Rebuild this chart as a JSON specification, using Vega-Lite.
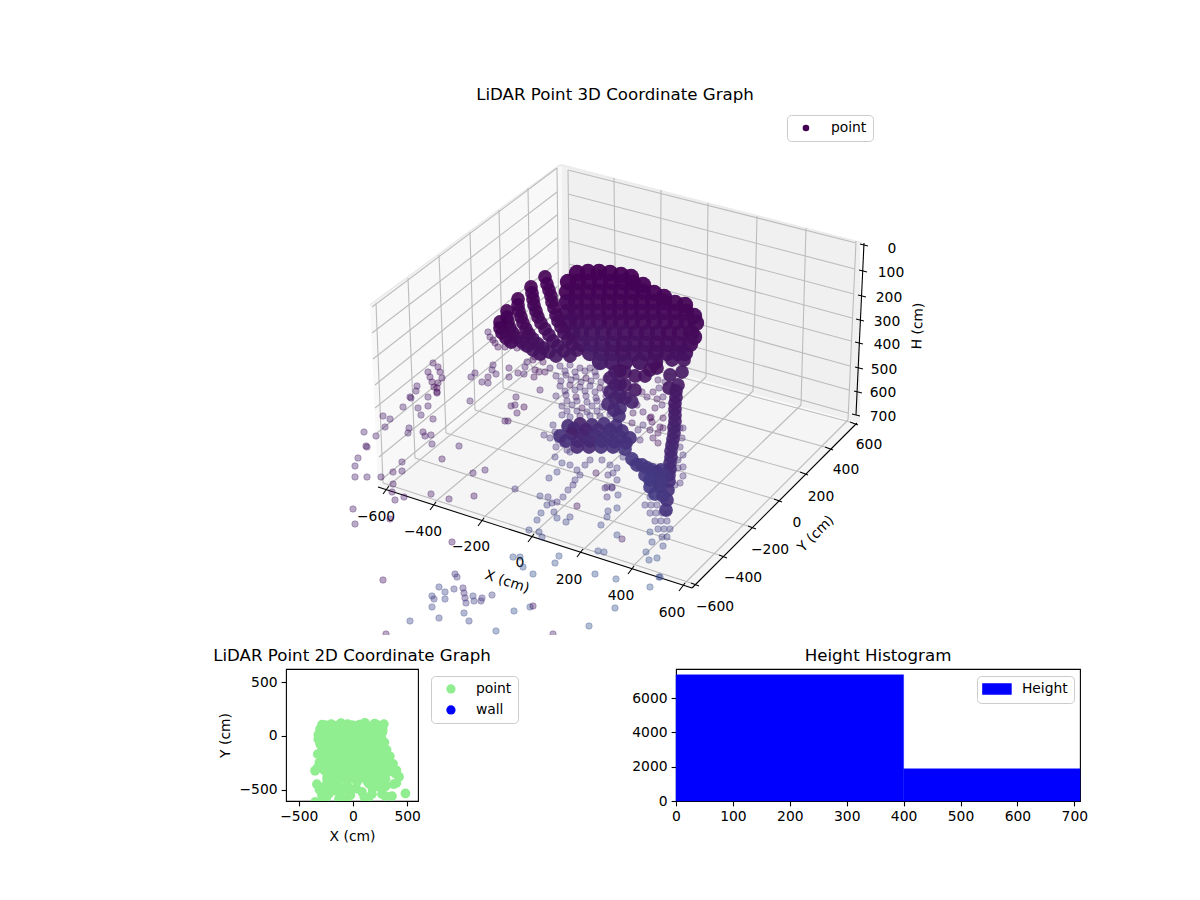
{"$schema":"https://vega.github.io/schema/vega-lite/v6.json","autosize":{"type":"none"},"padding":{"left":286,"top":105,"right":914,"bottom":795},"background":"white","bounds":"flush","spacing":34,"resolve":{"scale":{"color":"independent"},"legend":{"color":"independent"}},"config":{"font":"DejaVu Sans","title":{"fontSize":16.67,"fontWeight":"normal","color":"black"},"axis":{"grid":false,"domain":false,"tickColor":"black","tickWidth":1.1,"tickSize":4.9,"labelColor":"black","labelFontSize":13.89,"labelPadding":4,"titleColor":"black","titleFontSize":13.89,"titleFontWeight":"normal","labelFlush":false,"labelOverlap":false},"legend":{"labelFontSize":13.89,"labelColor":"black","fillColor":"white","strokeColor":"#cccccc","cornerRadius":4,"title":null}},"vconcat":[{"width":794,"height":530,"view":{"stroke":null},"title":{"text":"LiDAR Point 3D Coordinate Graph","dx":-68,"offset":1},"encoding":{"x":{"field":"x","type":"quantitative","axis":null,"scale":{"domain":[286,1080],"nice":false,"zero":false}},"y":{"field":"y","type":"quantitative","axis":null,"scale":{"domain":[635,105],"nice":false,"zero":false}}},"layer":[{"data":{"values":[{"x":370,"y":305,"y2":305},{"x":378,"y":299,"y2":487},{"x":562,"y":164,"y2":342}]},"mark":{"type":"area","orient":"vertical","color":"#f8f8f8"},"encoding":{"y2":{"field":"y2"}}},{"data":{"values":[{"x":562,"y":164,"y2":342},{"x":860,"y":243,"y2":423}]},"mark":{"type":"area","orient":"vertical","color":"#f0f0f0"},"encoding":{"y2":{"field":"y2"}}},{"data":{"values":[{"x":378,"y":487,"y2":487},{"x":562,"y":342,"y2":546},{"x":692,"y":378,"y2":588},{"x":857,"y":423,"y2":423}]},"mark":{"type":"area","orient":"vertical","color":"#f5f5f5"},"encoding":{"y2":{"field":"y2"}}},{"data":{"values":[{"x":370,"y":305,"x2":560,"y2":165},{"x":560,"y":165,"x2":862,"y2":243}]},"mark":{"type":"rule","color":"#ececec","strokeWidth":2},"encoding":{"x2":{"field":"x2"},"y2":{"field":"y2"}}},{"data":{"values":[{"x":376,"y":303,"x2":383,"y2":483},{"x":408,"y":278,"x2":415,"y2":458},{"x":439,"y":255,"x2":446,"y2":433},{"x":470,"y":232,"x2":475,"y2":410},{"x":499,"y":210,"x2":503,"y2":388},{"x":528,"y":188,"x2":531,"y2":366},{"x":557,"y":168,"x2":559,"y2":345},{"x":568,"y":170,"x2":570,"y2":337},{"x":614,"y":178,"x2":616,"y2":350},{"x":661,"y":190,"x2":660,"y2":363},{"x":708,"y":203,"x2":706,"y2":377},{"x":757,"y":216,"x2":753,"y2":391},{"x":806,"y":228,"x2":801,"y2":405},{"x":856,"y":241,"x2":848,"y2":420},{"x":372,"y":307,"x2":557,"y2":168},{"x":372,"y":333,"x2":557,"y2":192},{"x":373,"y":359,"x2":557,"y2":215},{"x":375,"y":385,"x2":557,"y2":238},{"x":375,"y":408,"x2":558,"y2":262},{"x":377,"y":433,"x2":558,"y2":286},{"x":379,"y":457,"x2":559,"y2":310},{"x":381,"y":480,"x2":559,"y2":334},{"x":568,"y":170,"x2":856,"y2":243},{"x":568,"y":194,"x2":855,"y2":269},{"x":568,"y":218,"x2":854,"y2":294},{"x":569,"y":241,"x2":852,"y2":318},{"x":569,"y":264,"x2":851,"y2":341},{"x":569,"y":288,"x2":850,"y2":366},{"x":570,"y":312,"x2":849,"y2":390},{"x":570,"y":335,"x2":848,"y2":413},{"x":388,"y":486,"x2":570,"y2":337},{"x":435,"y":502,"x2":616,"y2":350},{"x":483,"y":518,"x2":660,"y2":363},{"x":533,"y":534,"x2":706,"y2":377},{"x":583,"y":550,"x2":753,"y2":391},{"x":633,"y":566,"x2":801,"y2":405},{"x":684,"y":584,"x2":848,"y2":420},{"x":383,"y":483,"x2":691,"y2":583},{"x":415,"y":458,"x2":719,"y2":555},{"x":446,"y":433,"x2":748,"y2":526},{"x":475,"y":410,"x2":774,"y2":499},{"x":503,"y":388,"x2":800,"y2":472},{"x":531,"y":366,"x2":825,"y2":447},{"x":559,"y":345,"x2":850,"y2":422}]},"mark":{"type":"rule","color":"#bcbcbc","strokeWidth":1.1},"encoding":{"x2":{"field":"x2"},"y2":{"field":"y2"}}},{"data":{"values":[{"x":378,"y":487,"x2":692,"y2":588},{"x":692,"y":588,"x2":857,"y2":423},{"x":864,"y":243,"x2":856,"y2":415},{"x":383,"y":494,"x2":389,"y2":486},{"x":430,"y":510,"x2":436,"y2":502},{"x":478,"y":526,"x2":484,"y2":518},{"x":528,"y":542,"x2":534,"y2":534},{"x":577,"y":557,"x2":583,"y2":549},{"x":628,"y":574,"x2":634,"y2":566},{"x":679,"y":591,"x2":685,"y2":583},{"x":691,"y":583,"x2":699,"y2":586},{"x":719,"y":555,"x2":727,"y2":558},{"x":748,"y":526,"x2":756,"y2":529},{"x":774,"y":499,"x2":782,"y2":502},{"x":800,"y":472,"x2":808,"y2":475},{"x":825,"y":447,"x2":833,"y2":450},{"x":850,"y":422,"x2":858,"y2":425},{"x":860,"y":244,"x2":868,"y2":246},{"x":859,"y":270,"x2":867,"y2":272},{"x":858,"y":295,"x2":866,"y2":297},{"x":856,"y":319,"x2":864,"y2":321},{"x":855,"y":342,"x2":863,"y2":344},{"x":855,"y":367,"x2":863,"y2":369},{"x":854,"y":391,"x2":862,"y2":393},{"x":852,"y":414,"x2":860,"y2":416}]},"mark":{"type":"rule","color":"black","strokeWidth":1.1},"encoding":{"x2":{"field":"x2"},"y2":{"field":"y2"}}},{"data":{"values":[{"x":376,"y":517,"t":"−600"},{"x":423,"y":532,"t":"−400"},{"x":471,"y":547,"t":"−200"},{"x":520,"y":563,"t":"0"},{"x":569,"y":580,"t":"200"},{"x":621,"y":596,"t":"400"},{"x":672,"y":613,"t":"600"},{"x":715,"y":607,"t":"−600"},{"x":743,"y":578,"t":"−400"},{"x":770,"y":550,"t":"−200"},{"x":797,"y":523,"t":"0"},{"x":821,"y":497,"t":"200"},{"x":846,"y":470,"t":"400"},{"x":869,"y":445,"t":"600"},{"x":892,"y":249,"t":"0"},{"x":891,"y":273,"t":"100"},{"x":889,"y":298,"t":"200"},{"x":887,"y":322,"t":"300"},{"x":887,"y":345,"t":"400"},{"x":884,"y":370,"t":"500"},{"x":883,"y":393,"t":"600"},{"x":883,"y":417,"t":"700"}]},"mark":{"type":"text","fontSize":13.89,"color":"black","align":"center","baseline":"middle"},"encoding":{"text":{"field":"t"}}},{"data":{"values":[{"x":507,"y":582,"t":"X (cm)"}]},"mark":{"type":"text","fontSize":13.89,"color":"black","angle":18,"align":"center","baseline":"middle"},"encoding":{"text":{"field":"t"}}},{"data":{"values":[{"x":816,"y":534,"t":"Y (cm)"}]},"mark":{"type":"text","fontSize":13.89,"color":"black","angle":-45,"align":"center","baseline":"middle"},"encoding":{"text":{"field":"t"}}},{"data":{"values":[{"x":918,"y":326,"t":"H (cm)"}]},"mark":{"type":"text","fontSize":13.89,"color":"black","angle":-88,"align":"center","baseline":"middle"},"encoding":{"text":{"field":"t"}}},{"data":{"values":[{"x":364,"y":432,"h":30},{"x":376,"y":436,"h":30},{"x":366,"y":446,"h":25},{"x":367,"y":447,"h":25},{"x":358,"y":458,"h":30},{"x":355,"y":466,"h":30},{"x":355,"y":477,"h":30},{"x":367,"y":477,"h":30},{"x":381,"y":477,"h":25},{"x":393,"y":484,"h":15},{"x":393,"y":472,"h":20},{"x":402,"y":471,"h":25},{"x":402,"y":462,"h":30},{"x":392,"y":492,"h":20},{"x":395,"y":500,"h":20},{"x":404,"y":497,"h":25},{"x":353,"y":509,"h":25},{"x":355,"y":524,"h":30},{"x":390,"y":519,"h":25},{"x":431,"y":494,"h":25},{"x":449,"y":499,"h":25},{"x":474,"y":496,"h":15},{"x":452,"y":542,"h":15},{"x":383,"y":580,"h":15},{"x":383,"y":416,"h":25},{"x":390,"y":419,"h":30},{"x":385,"y":427,"h":30},{"x":403,"y":407,"h":30},{"x":411,"y":398,"h":25},{"x":418,"y":408,"h":30},{"x":421,"y":415,"h":30},{"x":428,"y":406,"h":25},{"x":428,"y":397,"h":30},{"x":437,"y":393,"h":20},{"x":433,"y":419,"h":25},{"x":409,"y":428,"h":30},{"x":408,"y":433,"h":30},{"x":423,"y":432,"h":20},{"x":425,"y":436,"h":25},{"x":431,"y":435,"h":25},{"x":432,"y":444,"h":30},{"x":459,"y":446,"h":30},{"x":442,"y":459,"h":20},{"x":473,"y":473,"h":25},{"x":485,"y":470,"h":30},{"x":515,"y":489,"h":55},{"x":470,"y":401,"h":30},{"x":516,"y":397,"h":20},{"x":511,"y":406,"h":15},{"x":515,"y":405,"h":20},{"x":524,"y":407,"h":5},{"x":517,"y":413,"h":20},{"x":505,"y":421,"h":20},{"x":508,"y":421,"h":15},{"x":544,"y":435,"h":55},{"x":549,"y":478,"h":65},{"x":557,"y":472,"h":65},{"x":562,"y":463,"h":65},{"x":570,"y":452,"h":60},{"x":570,"y":465,"h":60},{"x":577,"y":470,"h":60},{"x":580,"y":475,"h":60},{"x":575,"y":480,"h":60},{"x":573,"y":485,"h":55},{"x":568,"y":490,"h":60},{"x":563,"y":497,"h":60},{"x":557,"y":502,"h":55},{"x":552,"y":503,"h":60},{"x":547,"y":505,"h":65},{"x":540,"y":496,"h":65},{"x":548,"y":497,"h":60},{"x":541,"y":513,"h":70},{"x":537,"y":520,"h":70},{"x":554,"y":512,"h":65},{"x":557,"y":518,"h":70},{"x":570,"y":517,"h":65},{"x":566,"y":522,"h":70},{"x":577,"y":506,"h":15},{"x":596,"y":473,"h":20},{"x":529,"y":530,"h":70},{"x":539,"y":532,"h":70},{"x":542,"y":537,"h":70},{"x":513,"y":557,"h":80},{"x":520,"y":557,"h":80},{"x":523,"y":567,"h":80},{"x":533,"y":574,"h":80},{"x":559,"y":556,"h":80},{"x":555,"y":563,"h":80},{"x":595,"y":574,"h":80},{"x":616,"y":579,"h":85},{"x":601,"y":525,"h":70},{"x":608,"y":511,"h":65},{"x":607,"y":517,"h":70},{"x":617,"y":508,"h":70},{"x":617,"y":535,"h":75},{"x":598,"y":551,"h":75},{"x":604,"y":552,"h":75},{"x":607,"y":497,"h":50},{"x":605,"y":488,"h":45},{"x":612,"y":487,"h":50},{"x":618,"y":495,"h":65},{"x":455,"y":574,"h":55},{"x":457,"y":577,"h":60},{"x":439,"y":587,"h":70},{"x":432,"y":596,"h":70},{"x":445,"y":592,"h":70},{"x":434,"y":599,"h":65},{"x":445,"y":599,"h":70},{"x":432,"y":607,"h":70},{"x":454,"y":589,"h":65},{"x":463,"y":588,"h":50},{"x":464,"y":593,"h":50},{"x":465,"y":598,"h":50},{"x":466,"y":603,"h":60},{"x":473,"y":596,"h":70},{"x":474,"y":601,"h":65},{"x":481,"y":601,"h":55},{"x":482,"y":598,"h":60},{"x":492,"y":595,"h":65},{"x":464,"y":613,"h":70},{"x":469,"y":621,"h":70},{"x":439,"y":618,"h":70},{"x":410,"y":621,"h":70},{"x":386,"y":634,"h":20},{"x":514,"y":611,"h":80},{"x":530,"y":607,"h":80},{"x":533,"y":606,"h":15},{"x":496,"y":631,"h":85},{"x":589,"y":626,"h":85},{"x":553,"y":634,"h":30},{"x":615,"y":608,"h":85},{"x":659,"y":577,"h":75},{"x":660,"y":577,"h":75},{"x":650,"y":587,"h":85},{"x":646,"y":552,"h":80},{"x":649,"y":560,"h":80},{"x":657,"y":558,"h":80},{"x":652,"y":542,"h":75},{"x":663,"y":546,"h":70},{"x":650,"y":532,"h":75},{"x":622,"y":539,"h":25},{"x":607,"y":487,"h":45},{"x":612,"y":488,"h":45},{"x":608,"y":475,"h":50},{"x":613,"y":473,"h":55},{"x":617,"y":480,"h":60},{"x":602,"y":460,"h":55},{"x":610,"y":465,"h":60},{"x":617,"y":468,"h":60},{"x":623,"y":457,"h":55},{"x":632,"y":463,"h":25},{"x":658,"y":380,"h":30},{"x":665,"y":382,"h":35},{"x":653,"y":392,"h":20},{"x":659,"y":388,"h":35},{"x":657,"y":399,"h":15},{"x":663,"y":397,"h":30},{"x":655,"y":408,"h":15},{"x":662,"y":405,"h":30},{"x":650,"y":418,"h":10},{"x":651,"y":417,"h":10},{"x":652,"y":422,"h":10},{"x":663,"y":418,"h":10},{"x":650,"y":430,"h":15},{"x":660,"y":427,"h":10},{"x":658,"y":433,"h":10},{"x":653,"y":438,"h":15},{"x":658,"y":443,"h":10},{"x":663,"y":428,"h":15},{"x":643,"y":412,"h":25},{"x":637,"y":405,"h":20},{"x":647,"y":397,"h":25},{"x":642,"y":392,"h":20},{"x":633,"y":413,"h":20},{"x":680,"y":428,"h":45},{"x":683,"y":428,"h":45},{"x":682,"y":438,"h":45},{"x":680,"y":447,"h":45},{"x":683,"y":455,"h":50},{"x":678,"y":460,"h":50},{"x":683,"y":467,"h":50},{"x":678,"y":468,"h":50},{"x":683,"y":476,"h":50},{"x":680,"y":483,"h":50},{"x":675,"y":485,"h":50},{"x":433,"y":363,"h":15},{"x":428,"y":372,"h":15},{"x":430,"y":377,"h":15},{"x":432,"y":382,"h":10},{"x":434,"y":387,"h":10},{"x":437,"y":392,"h":5},{"x":438,"y":367,"h":15},{"x":440,"y":372,"h":15},{"x":442,"y":378,"h":15},{"x":438,"y":383,"h":10},{"x":437,"y":388,"h":5},{"x":417,"y":386,"h":25},{"x":416,"y":391,"h":25},{"x":410,"y":397,"h":20},{"x":471,"y":377,"h":25},{"x":475,"y":373,"h":25},{"x":482,"y":382,"h":25},{"x":488,"y":383,"h":25},{"x":488,"y":377,"h":20},{"x":492,"y":370,"h":25},{"x":493,"y":365,"h":25},{"x":496,"y":374,"h":25},{"x":509,"y":368,"h":15},{"x":509,"y":377,"h":25},{"x":518,"y":373,"h":20},{"x":525,"y":367,"h":25},{"x":527,"y":362,"h":25},{"x":524,"y":374,"h":25},{"x":533,"y":360,"h":10},{"x":535,"y":357,"h":10},{"x":542,"y":357,"h":10},{"x":543,"y":362,"h":10},{"x":535,"y":370,"h":10},{"x":534,"y":377,"h":10},{"x":539,"y":372,"h":10},{"x":545,"y":372,"h":10},{"x":550,"y":368,"h":25},{"x":540,"y":390,"h":25},{"x":488,"y":332,"h":15},{"x":490,"y":337,"h":15},{"x":493,"y":340,"h":10},{"x":495,"y":343,"h":10},{"x":498,"y":347,"h":10},{"x":505,"y":347,"h":10},{"x":508,"y":343,"h":15},{"x":513,"y":345,"h":10},{"x":517,"y":348,"h":10},{"x":497,"y":325,"h":25},{"x":501,"y":330,"h":25},{"x":522,"y":347,"h":15},{"x":526,"y":347,"h":15},{"x":532,"y":347,"h":20},{"x":560,"y":366,"h":35},{"x":570,"y":365,"h":35},{"x":580,"y":368,"h":35},{"x":590,"y":368,"h":35},{"x":600,"y":366,"h":35},{"x":556,"y":376,"h":40},{"x":566,"y":375,"h":40},{"x":576,"y":377,"h":40},{"x":586,"y":378,"h":15},{"x":596,"y":376,"h":40},{"x":606,"y":378,"h":40},{"x":560,"y":386,"h":40},{"x":570,"y":385,"h":20},{"x":580,"y":387,"h":40},{"x":590,"y":386,"h":45},{"x":600,"y":388,"h":20},{"x":610,"y":386,"h":40},{"x":556,"y":396,"h":45},{"x":566,"y":395,"h":45},{"x":576,"y":397,"h":15},{"x":586,"y":396,"h":45},{"x":596,"y":398,"h":45},{"x":606,"y":396,"h":45},{"x":562,"y":406,"h":45},{"x":572,"y":405,"h":45},{"x":582,"y":408,"h":15},{"x":592,"y":406,"h":45},{"x":602,"y":407,"h":45},{"x":612,"y":405,"h":45},{"x":562,"y":415,"h":50},{"x":600,"y":416,"h":45},{"x":610,"y":414,"h":50},{"x":565,"y":371,"h":38},{"x":575,"y":372,"h":38},{"x":585,"y":371,"h":38},{"x":595,"y":372,"h":38},{"x":561,"y":381,"h":40},{"x":571,"y":380,"h":40},{"x":581,"y":382,"h":40},{"x":591,"y":381,"h":40},{"x":601,"y":382,"h":40},{"x":565,"y":391,"h":42},{"x":575,"y":390,"h":42},{"x":585,"y":391,"h":42},{"x":595,"y":392,"h":42},{"x":605,"y":390,"h":42},{"x":567,"y":401,"h":45},{"x":577,"y":401,"h":45},{"x":587,"y":402,"h":45},{"x":597,"y":401,"h":45},{"x":567,"y":411,"h":48},{"x":577,"y":411,"h":48},{"x":587,"y":412,"h":48},{"x":597,"y":411,"h":48},{"x":570,"y":417,"h":50},{"x":580,"y":416,"h":30},{"x":590,"y":416,"h":50},{"x":632,"y":423,"h":15},{"x":638,"y":430,"h":45},{"x":643,"y":425,"h":50},{"x":640,"y":440,"h":45},{"x":555,"y":457,"h":60},{"x":590,"y":460,"h":55},{"x":585,"y":465,"h":55},{"x":553,"y":425,"h":50},{"x":555,"y":432,"h":50},{"x":558,"y":440,"h":50},{"x":550,"y":438,"h":50},{"x":563,"y":444,"h":50},{"x":567,"y":450,"h":50},{"x":556,"y":447,"h":50},{"x":650,"y":497,"h":60},{"x":645,"y":505,"h":60},{"x":651,"y":505,"h":60},{"x":657,"y":505,"h":60},{"x":650,"y":513,"h":60},{"x":656,"y":513,"h":60},{"x":662,"y":513,"h":60},{"x":668,"y":513,"h":60},{"x":655,"y":521,"h":60},{"x":661,"y":521,"h":60},{"x":667,"y":521,"h":60},{"x":658,"y":529,"h":65},{"x":664,"y":529,"h":65},{"x":670,"y":529,"h":65},{"x":662,"y":537,"h":65},{"x":667,"y":537,"h":65}]},"mark":{"type":"point","shape":"circle","filled":false,"size":42,"clip":true,"fillOpacity":0.38,"strokeOpacity":0.3,"strokeWidth":1},"encoding":{"fill":{"field":"h","type":"quantitative","legend":null,"scale":{"domain":[0,60,100],"range":["#440154","#453781","#33638d"]}},"stroke":{"field":"h","type":"quantitative","legend":null,"scale":{"domain":[0,60,100],"range":["#440154","#453781","#33638d"]}}}},{"data":{"values":[{"x":600,"y":272,"s":"point"}]},"mark":{"type":"circle","size":30,"opacity":1},"encoding":{"color":{"field":"s","type":"nominal","scale":{"domain":["point"],"range":["#440154"]},"legend":{"orient":"none","legendX":501,"legendY":10,"symbolType":"circle","symbolSize":44,"symbolOpacity":1,"padding":6,"symbolOffset":6,"labelOffset":18}}}},{"data":{"values":[{"x":577,"y":273,"h":0},{"x":588,"y":272,"h":0},{"x":599,"y":272,"h":0},{"x":610,"y":273,"h":0},{"x":621,"y":275,"h":0},{"x":631,"y":277,"h":0},{"x":568,"y":282,"h":1},{"x":578,"y":282,"h":1},{"x":589,"y":282,"h":1},{"x":600,"y":282,"h":1},{"x":611,"y":282,"h":1},{"x":622,"y":282,"h":1},{"x":633,"y":283,"h":1},{"x":643,"y":285,"h":1},{"x":567,"y":292,"h":3},{"x":577,"y":292,"h":3},{"x":588,"y":292,"h":3},{"x":599,"y":292,"h":2},{"x":610,"y":292,"h":2},{"x":621,"y":292,"h":2},{"x":632,"y":292,"h":2},{"x":643,"y":292,"h":2},{"x":654,"y":293,"h":2},{"x":664,"y":297,"h":2},{"x":567,"y":302,"h":5},{"x":576,"y":302,"h":5},{"x":587,"y":302,"h":5},{"x":598,"y":302,"h":5},{"x":609,"y":302,"h":3},{"x":620,"y":302,"h":3},{"x":631,"y":302,"h":3},{"x":642,"y":302,"h":3},{"x":653,"y":302,"h":3},{"x":664,"y":302,"h":3},{"x":675,"y":303,"h":3},{"x":685,"y":305,"h":3},{"x":567,"y":312,"h":8},{"x":576,"y":312,"h":8},{"x":587,"y":312,"h":7},{"x":598,"y":312,"h":7},{"x":609,"y":312,"h":5},{"x":620,"y":312,"h":5},{"x":631,"y":312,"h":5},{"x":642,"y":312,"h":5},{"x":653,"y":312,"h":5},{"x":664,"y":312,"h":5},{"x":675,"y":312,"h":4},{"x":686,"y":312,"h":4},{"x":694,"y":316,"h":4},{"x":569,"y":322,"h":10},{"x":577,"y":322,"h":10},{"x":588,"y":322,"h":10},{"x":599,"y":322,"h":10},{"x":610,"y":322,"h":8},{"x":621,"y":322,"h":8},{"x":632,"y":322,"h":8},{"x":643,"y":322,"h":8},{"x":654,"y":322,"h":8},{"x":665,"y":322,"h":8},{"x":676,"y":322,"h":6},{"x":687,"y":322,"h":6},{"x":696,"y":323,"h":6},{"x":572,"y":333,"h":14},{"x":581,"y":333,"h":14},{"x":592,"y":333,"h":14},{"x":603,"y":333,"h":14},{"x":614,"y":333,"h":12},{"x":625,"y":333,"h":12},{"x":636,"y":333,"h":10},{"x":647,"y":333,"h":10},{"x":658,"y":333,"h":10},{"x":669,"y":333,"h":8},{"x":680,"y":333,"h":8},{"x":691,"y":333,"h":8},{"x":694,"y":337,"h":8},{"x":582,"y":344,"h":20},{"x":591,"y":344,"h":20},{"x":602,"y":344,"h":18},{"x":613,"y":344,"h":16},{"x":624,"y":344,"h":12},{"x":635,"y":344,"h":14},{"x":646,"y":344,"h":12},{"x":657,"y":344,"h":10},{"x":668,"y":344,"h":10},{"x":679,"y":344,"h":10},{"x":690,"y":344,"h":10},{"x":590,"y":353,"h":24},{"x":601,"y":353,"h":22},{"x":612,"y":353,"h":18},{"x":623,"y":353,"h":15},{"x":634,"y":353,"h":15},{"x":645,"y":353,"h":15},{"x":656,"y":353,"h":12},{"x":667,"y":353,"h":12},{"x":678,"y":353,"h":12},{"x":685,"y":353,"h":12},{"x":600,"y":362,"h":26},{"x":612,"y":362,"h":22},{"x":625,"y":362,"h":18},{"x":640,"y":362,"h":16},{"x":655,"y":362,"h":14}]},"mark":{"type":"point","shape":"circle","filled":true,"size":270,"clip":true,"opacity":0.95},"encoding":{"fill":{"field":"h","type":"quantitative","legend":null,"scale":{"domain":[0,60,100],"range":["#440154","#453781","#33638d"]}}}},{"data":{"values":[{"x":545,"y":277,"h":0},{"x":547,"y":284,"h":1},{"x":549,"y":290,"h":2},{"x":551,"y":296,"h":3},{"x":552,"y":302,"h":4},{"x":554,"y":308,"h":5},{"x":556,"y":315,"h":6},{"x":558,"y":321,"h":7},{"x":561,"y":327,"h":8},{"x":564,"y":333,"h":10},{"x":568,"y":339,"h":12},{"x":572,"y":345,"h":14},{"x":577,"y":350,"h":15},{"x":531,"y":287,"h":0},{"x":532,"y":293,"h":1},{"x":533,"y":299,"h":2},{"x":534,"y":305,"h":3},{"x":536,"y":311,"h":4},{"x":538,"y":317,"h":5},{"x":541,"y":323,"h":7},{"x":545,"y":329,"h":8},{"x":549,"y":335,"h":10},{"x":553,"y":341,"h":12},{"x":558,"y":346,"h":14},{"x":564,"y":351,"h":16},{"x":570,"y":356,"h":18},{"x":518,"y":299,"h":0},{"x":518,"y":305,"h":1},{"x":519,"y":311,"h":3},{"x":521,"y":317,"h":4},{"x":523,"y":323,"h":5},{"x":526,"y":329,"h":6},{"x":529,"y":334,"h":8},{"x":533,"y":339,"h":10},{"x":538,"y":344,"h":12},{"x":543,"y":348,"h":14},{"x":549,"y":352,"h":16},{"x":556,"y":356,"h":18},{"x":507,"y":311,"h":0},{"x":507,"y":317,"h":2},{"x":508,"y":322,"h":3},{"x":510,"y":328,"h":4},{"x":513,"y":333,"h":6},{"x":517,"y":338,"h":8},{"x":522,"y":342,"h":10},{"x":527,"y":346,"h":12},{"x":533,"y":350,"h":14},{"x":540,"y":354,"h":15},{"x":500,"y":322,"h":0},{"x":500,"y":328,"h":2},{"x":502,"y":333,"h":4},{"x":506,"y":338,"h":6},{"x":511,"y":342,"h":8},{"x":620,"y":371,"h":12},{"x":620,"y":384,"h":20},{"x":620,"y":396,"h":30},{"x":620,"y":408,"h":40},{"x":619,"y":416,"h":45},{"x":615,"y":372,"h":18},{"x":625,"y":372,"h":16},{"x":615,"y":385,"h":24},{"x":625,"y":385,"h":20},{"x":635,"y":376,"h":15},{"x":645,"y":376,"h":14},{"x":635,"y":390,"h":20},{"x":615,"y":398,"h":32},{"x":625,"y":398,"h":28},{"x":614,"y":410,"h":40},{"x":610,"y":378,"h":25},{"x":610,"y":392,"h":30},{"x":608,"y":404,"h":38},{"x":632,"y":402,"h":30},{"x":650,"y":370,"h":12},{"x":657,"y":368,"h":10},{"x":672,"y":360,"h":15},{"x":684,"y":360,"h":15},{"x":682,"y":372,"h":18},{"x":670,"y":375,"h":18},{"x":678,"y":385,"h":20},{"x":669,"y":388,"h":20},{"x":676,"y":391,"h":21},{"x":676,"y":397,"h":22},{"x":675,"y":403,"h":23},{"x":675,"y":409,"h":24},{"x":675,"y":415,"h":26},{"x":675,"y":421,"h":28},{"x":674,"y":427,"h":30},{"x":674,"y":433,"h":32},{"x":673,"y":439,"h":34},{"x":672,"y":445,"h":36},{"x":671,"y":451,"h":38},{"x":671,"y":457,"h":40},{"x":670,"y":463,"h":42},{"x":670,"y":469,"h":44},{"x":669,"y":475,"h":46},{"x":669,"y":481,"h":48},{"x":668,"y":490,"h":50},{"x":667,"y":500,"h":52},{"x":666,"y":510,"h":54},{"x":568,"y":426,"h":45},{"x":580,"y":424,"h":30},{"x":592,"y":425,"h":45},{"x":604,"y":424,"h":48},{"x":616,"y":426,"h":48},{"x":574,"y":429,"h":40},{"x":586,"y":430,"h":35},{"x":598,"y":430,"h":45},{"x":610,"y":430,"h":48},{"x":622,"y":431,"h":48},{"x":560,"y":436,"h":50},{"x":572,"y":434,"h":30},{"x":584,"y":436,"h":35},{"x":596,"y":436,"h":48},{"x":608,"y":436,"h":50},{"x":620,"y":437,"h":50},{"x":630,"y":438,"h":50},{"x":566,"y":441,"h":48},{"x":578,"y":441,"h":40},{"x":590,"y":441,"h":45},{"x":602,"y":441,"h":50},{"x":614,"y":442,"h":50},{"x":626,"y":443,"h":52},{"x":577,"y":447,"h":40},{"x":589,"y":447,"h":40},{"x":601,"y":447,"h":52},{"x":613,"y":447,"h":52},{"x":625,"y":449,"h":55},{"x":632,"y":459,"h":58},{"x":637,"y":465,"h":58},{"x":642,"y":465,"h":58},{"x":647,"y":468,"h":58},{"x":652,"y":470,"h":58},{"x":657,"y":472,"h":58},{"x":661,"y":470,"h":55},{"x":645,"y":475,"h":60},{"x":655,"y":476,"h":60},{"x":665,"y":476,"h":58},{"x":650,"y":480,"h":62},{"x":660,"y":482,"h":60},{"x":650,"y":487,"h":62},{"x":660,"y":487,"h":60},{"x":655,"y":494,"h":62},{"x":663,"y":496,"h":60}]},"mark":{"type":"point","shape":"circle","filled":true,"size":190,"clip":true,"opacity":0.9},"encoding":{"fill":{"field":"h","type":"quantitative","legend":null,"scale":{"domain":[0,60,100],"range":["#440154","#453781","#33638d"]}}}}]},{"bounds":"flush","spacing":258,"resolve":{"scale":{"color":"independent"},"legend":{"color":"independent"}},"hconcat":[{"width":132,"height":132,"view":{"stroke":"black","strokeWidth":1.1},"title":{"text":"LiDAR Point 2D Coordinate Graph","offset":4},"encoding":{"x":{"field":"X","type":"quantitative","title":"X (cm)","scale":{"domain":[-618,600],"nice":false,"zero":false},"axis":{"values":[-500,0,500],"titlePadding":6}},"y":{"field":"Y","type":"quantitative","title":"Y (cm)","scale":{"domain":[-606,623],"nice":false,"zero":false},"axis":{"values":[-500,0,500],"titlePadding":6}},"color":{"field":"s","type":"nominal","scale":{"domain":["point","wall"],"range":["#90ee90","#0000ff"]},"legend":{"orient":"none","legendX":145,"legendY":7,"symbolType":"circle","symbolSize":85,"symbolOpacity":1,"padding":6,"symbolOffset":7,"labelOffset":18,"rowPadding":6}}},"layer":[{"data":{"values":[{"X":-255,"Y":50,"s":"point"},{"X":-130,"Y":50,"s":"point"},{"X":-10,"Y":50,"s":"point"},{"X":110,"Y":50,"s":"point"},{"X":225,"Y":50,"s":"point"},{"X":-255,"Y":-60,"s":"point"},{"X":-130,"Y":-60,"s":"point"},{"X":-10,"Y":-60,"s":"point"},{"X":110,"Y":-60,"s":"point"},{"X":225,"Y":-60,"s":"point"},{"X":-245,"Y":-170,"s":"point"},{"X":-130,"Y":-170,"s":"point"},{"X":-10,"Y":-170,"s":"point"},{"X":110,"Y":-170,"s":"point"},{"X":235,"Y":-170,"s":"point"},{"X":-235,"Y":-280,"s":"point"},{"X":-130,"Y":-280,"s":"point"},{"X":-10,"Y":-280,"s":"point"},{"X":110,"Y":-280,"s":"point"},{"X":260,"Y":-280,"s":"point"},{"X":-190,"Y":-350,"s":"point"},{"X":-80,"Y":-350,"s":"point"},{"X":30,"Y":-350,"s":"point"},{"X":140,"Y":-350,"s":"point"},{"X":240,"Y":-340,"s":"point"}]},"mark":{"type":"circle","size":420,"opacity":1,"clip":true}},{"data":{"values":[{"X":-285,"Y":105,"s":"point"},{"X":-200,"Y":110,"s":"point"},{"X":-110,"Y":118,"s":"point"},{"X":-50,"Y":110,"s":"point"},{"X":60,"Y":105,"s":"point"},{"X":110,"Y":122,"s":"point"},{"X":200,"Y":115,"s":"point"},{"X":285,"Y":110,"s":"point"},{"X":-320,"Y":10,"s":"point"},{"X":-320,"Y":-30,"s":"point"},{"X":-300,"Y":-80,"s":"point"},{"X":-325,"Y":-170,"s":"point"},{"X":-350,"Y":-325,"s":"point"},{"X":-330,"Y":-300,"s":"point"},{"X":-310,"Y":-250,"s":"point"},{"X":290,"Y":-60,"s":"point"},{"X":310,"Y":-130,"s":"point"},{"X":340,"Y":-190,"s":"point"},{"X":370,"Y":-260,"s":"point"},{"X":400,"Y":-320,"s":"point"},{"X":425,"Y":-380,"s":"point"},{"X":390,"Y":-350,"s":"point"},{"X":350,"Y":-330,"s":"point"},{"X":400,"Y":-440,"s":"point"},{"X":375,"Y":-450,"s":"point"},{"X":484,"Y":-536,"s":"point"},{"X":-240,"Y":-400,"s":"point"},{"X":-150,"Y":-410,"s":"point"},{"X":-60,"Y":-400,"s":"point"},{"X":40,"Y":-410,"s":"point"},{"X":130,"Y":-420,"s":"point"},{"X":230,"Y":-400,"s":"point"},{"X":300,"Y":-400,"s":"point"},{"X":-333,"Y":-450,"s":"point"},{"X":-286,"Y":-552,"s":"point"},{"X":-348,"Y":-614,"s":"point"},{"X":-300,"Y":-614,"s":"point"},{"X":-225,"Y":-542,"s":"point"},{"X":-260,"Y":-470,"s":"point"},{"X":-117,"Y":-552,"s":"point"},{"X":-130,"Y":-590,"s":"point"},{"X":-25,"Y":-552,"s":"point"},{"X":-60,"Y":-590,"s":"point"},{"X":83,"Y":-521,"s":"point"},{"X":175,"Y":-542,"s":"point"},{"X":140,"Y":-590,"s":"point"},{"X":268,"Y":-542,"s":"point"},{"X":300,"Y":-560,"s":"point"},{"X":360,"Y":-561,"s":"point"},{"X":145,"Y":-443,"s":"point"},{"X":37,"Y":-428,"s":"point"},{"X":-240,"Y":-443,"s":"point"},{"X":-148,"Y":-443,"s":"point"},{"X":-55,"Y":-450,"s":"point"},{"X":222,"Y":-428,"s":"point"},{"X":250,"Y":-480,"s":"point"},{"X":-190,"Y":-480,"s":"point"},{"X":-90,"Y":-490,"s":"point"},{"X":-30,"Y":-490,"s":"point"},{"X":105,"Y":-570,"s":"point"},{"X":-170,"Y":-510,"s":"point"},{"X":-60,"Y":-500,"s":"point"},{"X":30,"Y":-490,"s":"point"},{"X":180,"Y":-490,"s":"point"},{"X":-310,"Y":-500,"s":"point"},{"X":-250,"Y":-590,"s":"point"},{"X":300,"Y":-470,"s":"point"}]},"mark":{"type":"circle","size":95,"opacity":1,"clip":true}}]},{"width":404,"height":132,"view":{"stroke":"black","strokeWidth":1.1},"title":{"text":"Height Histogram","offset":4},"data":{"values":[{"a":0,"b":400,"n":7356,"z":0,"s":"Height"},{"a":400,"b":710,"n":1881,"z":0,"s":"Height"}]},"mark":{"type":"rect","stroke":"#0000ff","strokeWidth":0.4},"encoding":{"x":{"field":"a","type":"quantitative","title":null,"scale":{"domain":[0,710],"nice":false,"zero":false},"axis":{"values":[0,100,200,300,400,500,600,700],"format":"d"}},"x2":{"field":"b"},"y":{"field":"n","type":"quantitative","title":null,"scale":{"domain":[0,7690],"nice":false},"axis":{"values":[0,2000,4000,6000],"format":"d"}},"y2":{"field":"z"},"color":{"field":"s","type":"nominal","scale":{"domain":["Height"],"range":["#0000ff"]},"legend":{"orient":"none","legendX":301,"legendY":7,"symbolType":"M-2.8,-1H2.8V1H-2.8Z","symbolSize":100,"symbolOpacity":1,"padding":6,"symbolOffset":7,"labelOffset":18}}}}]}]}
